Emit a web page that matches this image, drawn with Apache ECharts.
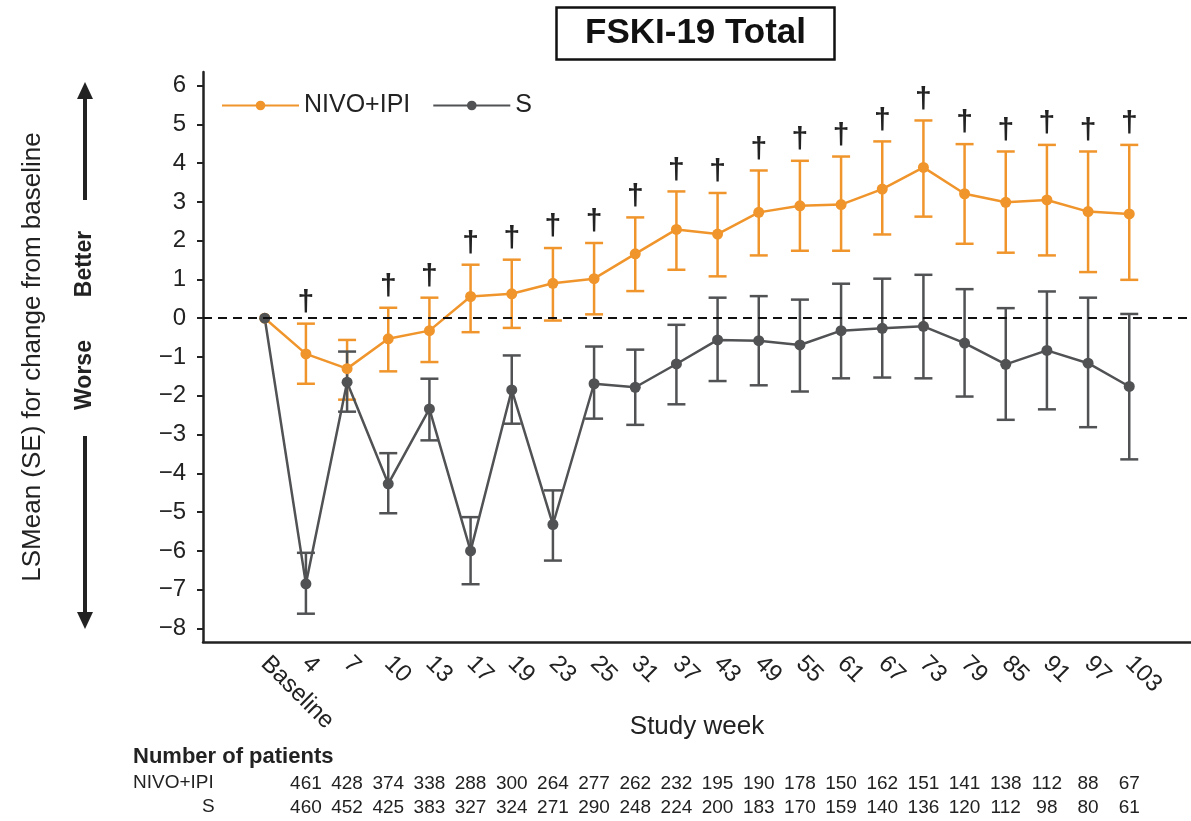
<!DOCTYPE html>
<html>
<head>
<meta charset="utf-8">
<script src="https://cdn.jsdelivr.net/npm/echarts@6/dist/echarts.min.js"></script>
<style>
  html, body { margin: 0; padding: 0; background: #fff; }
  #main { width: 1191px; height: 821px; }
</style>
</head>
<body>
<div id="main"></div>
<script>
const weeks = ['Baseline', '4', '7', '10', '13', '17', '19', '23', '25', '31', '37', '43', '49', '55', '61', '67', '73', '79', '85', '91', '97', '103']

const nivoMean = [0, -0.92, -1.30, -0.53, -0.32, 0.56, 0.63, 0.90, 1.02, 1.66, 2.29, 2.17, 2.73, 2.90, 2.93, 3.33, 3.89, 3.21, 2.99, 3.05, 2.75, 2.69]
const nivoUpper = [null, -0.14, -0.56, 0.27, 0.53, 1.38, 1.51, 1.81, 1.94, 2.60, 3.27, 3.23, 3.81, 4.06, 4.17, 4.56, 5.10, 4.49, 4.30, 4.47, 4.30, 4.47]
const nivoLower = [null, -1.69, -2.10, -1.37, -1.13, -0.36, -0.25, -0.06, 0.10, 0.70, 1.25, 1.08, 1.62, 1.74, 1.74, 2.16, 2.62, 1.92, 1.69, 1.62, 1.19, 0.99]

const sMean = [0, -6.85, -1.65, -4.27, -2.34, -6.00, -1.85, -5.32, -1.69, -1.78, -1.18, -0.56, -0.58, -0.69, -0.32, -0.26, -0.21, -0.64, -1.19, -0.83, -1.16, -1.76]
const sUpper = [null, -6.05, -0.86, -3.48, -1.56, -5.13, -0.96, -4.44, -0.73, -0.81, -0.17, 0.53, 0.57, 0.48, 0.89, 1.02, 1.12, 0.75, 0.26, 0.69, 0.53, 0.11]
const sLower = [null, -7.62, -2.41, -5.03, -3.15, -6.86, -2.72, -6.25, -2.59, -2.75, -2.22, -1.62, -1.73, -1.89, -1.55, -1.53, -1.55, -2.02, -2.62, -2.35, -2.81, -3.64]

// weeks marked with a dagger above the NIVO+IPI bar
const daggerWeeks = ['4', '10', '13', '17', '19', '23', '25', '31', '37', '43', '49', '55', '61', '67', '73', '79', '85', '91', '97', '103']

// number of patients, weeks 4..103
const nivoN = [461, 428, 374, 338, 288, 300, 264, 277, 262, 232, 195, 190, 178, 150, 162, 151, 141, 138, 112, 88, 67]
const sN = [460, 452, 425, 383, 327, 324, 271, 290, 248, 224, 200, 183, 170, 159, 140, 136, 120, 112, 98, 80, 61]

const yTicks = [-8, -7, -6, -5, -4, -3, -2, -1, 0, 1, 2, 3, 4, 5, 6]

const ORANGE = '#F0952C'
const GREY = '#505254'
const INK = '#222'
const FONT = '"Liberation Sans", Arial, sans-serif'

// one empty slot either side of the weeks so the axis starts before Baseline
const cats = [''].concat(weeks, [' '])
const countRow = (arr) => ['', ''].concat(arr.map(String), [' '])

const errorBars = (color, marks) => (params, api) => {
  const lo = api.value(1)
  const hi = api.value(2)
  if (isNaN(lo) || isNaN(hi)) return null
  const x = api.value(0)
  const pLo = api.coord([x, lo])
  const pHi = api.coord([x, hi])
  const half = 9
  const style = { stroke: color, lineWidth: 2.5 }
  const children = [
    { type: 'line', shape: { x1: pHi[0], y1: pHi[1], x2: pLo[0], y2: pLo[1] }, style },
    { type: 'line', shape: { x1: pHi[0] - half, y1: pHi[1], x2: pHi[0] + half, y2: pHi[1] }, style },
    { type: 'line', shape: { x1: pLo[0] - half, y1: pLo[1], x2: pLo[0] + half, y2: pLo[1] }, style }
  ]
  if (marks && marks.includes(weeks[params.dataIndex])) {
    children.push({
      type: 'text',
      x: pHi[0],
      y: pHi[1] - 6,
      style: { text: '\u2020', fill: INK, font: 'bold 30px ' + FONT, align: 'center', verticalAlign: 'bottom' }
    })
  }
  return { type: 'group', children }
}

const lineSeries = (name, color, values, extra) => Object.assign({
  name: name,
  type: 'line',
  data: weeks.map((w, i) => [w, values[i]]),
  symbol: 'circle',
  symbolSize: 11,
  itemStyle: { color: color },
  lineStyle: { color: color, width: 2.5 },
  z: 4
}, extra)

const barSeries = (color, lower, upper, marks) => ({
  type: 'custom',
  renderItem: errorBars(color, marks),
  encode: { x: 0, y: [1, 2] },
  data: weeks.map((w, i) => [w, lower[i], upper[i]]),
  z: 3
})

const chart = echarts.init(document.getElementById('main'))

chart.setOption({
  animation: false,
  textStyle: { fontFamily: FONT },
  title: {
    text: 'FSKI-19 Total',
    left: 556,
    top: 7,
    padding: [9, 29],
    borderColor: '#111',
    borderWidth: 2.5,
    textStyle: { fontSize: 35, fontWeight: 'bold', color: '#111', fontFamily: FONT }
  },
  legend: {
    data: ['NIVO+IPI', 'S'],
    left: 216,
    top: 88,
    itemWidth: 77,
    itemHeight: 12,
    itemGap: 22,
    textStyle: { fontSize: 25, color: INK, fontFamily: FONT }
  },
  grid: { left: 203, right: 0, top: 72, bottom: 179 },
  xAxis: [
    {
      type: 'category',
      data: cats,
      boundaryGap: true,
      axisLine: { onZero: false, lineStyle: { color: INK, width: 2.5 } },
      axisTick: {
        alignWithLabel: true,
        length: 7,
        interval: (i, v) => v.trim() !== '',
        lineStyle: { color: INK, width: 2 }
      },
      axisLabel: { interval: 0, rotate: -45, fontSize: 24, color: INK, margin: 18 },
      name: 'Study week',
      nameLocation: 'middle',
      nameGap: 72,
      nameMoveOverlap: false,
      nameTextStyle: { fontSize: 26, color: INK }
    },
    {
      type: 'category',
      data: countRow(nivoN),
      position: 'bottom',
      offset: 132,
      axisLine: { show: false },
      axisTick: { show: false },
      axisLabel: { interval: 0, fontSize: 19, color: INK, margin: 0 }
    },
    {
      type: 'category',
      data: countRow(sN),
      position: 'bottom',
      offset: 156,
      axisLine: { show: false },
      axisTick: { show: false },
      axisLabel: { interval: 0, fontSize: 19, color: INK, margin: 0 }
    }
  ],
  yAxis: {
    type: 'value',
    min: -8.35,
    max: 6.35,
    splitLine: { show: false },
    axisLine: { show: true, lineStyle: { color: INK, width: 2.5 } },
    axisTick: { show: true, length: 6, customValues: yTicks, lineStyle: { color: INK, width: 2 } },
    axisLabel: {
      customValues: yTicks,
      fontSize: 24,
      color: INK,
      margin: 17,
      formatter: (v) => (v < 0 ? '\u2212' + Math.abs(v) : String(v))
    },
    name: 'LSMean (SE) for change from baseline',
    nameLocation: 'middle',
    nameGap: 157,
    nameMoveOverlap: false,
    nameTextStyle: { fontSize: 26, color: INK }
  },
  graphic: [
    { type: 'text', left: 133, top: 746, style: { text: 'Number of patients', font: 'bold 22px ' + FONT, fill: INK } },
    { type: 'text', left: 133, top: 773, style: { text: 'NIVO+IPI', font: '19px ' + FONT, fill: INK } },
    { type: 'text', left: 202, top: 797, style: { text: 'S', font: '19px ' + FONT, fill: INK } },
    { type: 'polygon', shape: { points: [[85, 82], [77, 99], [93, 99]] }, style: { fill: INK } },
    { type: 'rect', shape: { x: 83, y: 97, width: 4, height: 103 }, style: { fill: INK } },
    { type: 'text', x: 85, y: 264, rotation: Math.PI / 2, style: { text: 'Better', font: 'bold 23px ' + FONT, fill: INK, align: 'center', verticalAlign: 'middle' } },
    { type: 'text', x: 85, y: 375, rotation: Math.PI / 2, style: { text: 'Worse', font: 'bold 23px ' + FONT, fill: INK, align: 'center', verticalAlign: 'middle' } },
    { type: 'rect', shape: { x: 83, y: 436, width: 4, height: 178 }, style: { fill: INK } },
    { type: 'polygon', shape: { points: [[85, 629], [77, 612], [93, 612]] }, style: { fill: INK } }
  ],
  series: [
    barSeries(ORANGE, nivoLower, nivoUpper, daggerWeeks),
    lineSeries('NIVO+IPI', ORANGE, nivoMean, {
      markLine: {
        silent: true,
        symbol: 'none',
        label: { show: false },
        lineStyle: { color: '#111', type: [9, 6], width: 2 },
        data: [{ yAxis: 0 }]
      }
    }),
    barSeries(GREY, sLower, sUpper, null),
    lineSeries('S', GREY, sMean, {})
  ]
})
</script>
</body>
</html>
